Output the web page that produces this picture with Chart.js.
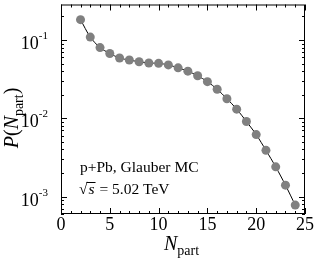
<!DOCTYPE html>
<html lang="en">

<head>
    <meta charset="UTF-8">
    <title>P(Npart)</title>
    <script src="https://cdn.jsdelivr.net/npm/chart.js"></script>
    <style>
        html, body {
            margin: 0;
            padding: 0;
            background: #fff;
        }

        #wrap {
            width: 315px;
            height: 258px;
        }
    </style>
</head>

<body>
    <div id="wrap"><canvas id="npartChart" width="315" height="258"></canvas></div>
    <script>
        // number of participants and probability
        const nPart = [2, 3, 4, 5, 6, 7, 8, 9, 10, 11, 12, 13, 14, 15, 16, 17, 18, 19, 20, 21, 22, 23, 24];
        const prob = [0.182, 0.109, 0.080, 0.0673, 0.0589, 0.0555, 0.0528, 0.0509, 0.0503, 0.0481, 0.0441,
            0.0400, 0.0349, 0.0294, 0.0235, 0.0178, 0.0131, 0.0091, 0.0062, 0.0039, 0.0024, 0.0014, 0.00078];
        const xTicks = [0, 5, 10, 15, 20, 25];
        const yDecades = [-3, -2, -1];

        const serif = '"Liberation Serif", "DejaVu Serif", serif';

        // frame, inner ticks and all labels
        const framePlugin = {
            id: 'frame',
            afterDraw(chart) {
                const ctx = chart.ctx;
                const a = chart.chartArea;
                const xs = chart.scales.x;
                const ys = chart.scales.y;
                ctx.save();
                ctx.strokeStyle = '#000';
                ctx.lineWidth = 1;
                ctx.strokeRect(a.left + 0.5, a.top + 0.5, a.right - a.left - 1, a.bottom - a.top - 1);

                ctx.beginPath();
                // x ticks
                for (let v = 0; v <= 25; v++) {
                    const px = Math.round(xs.getPixelForValue(v)) + 0.5;
                    const len = v % 5 === 0 ? 6 : 3;
                    ctx.moveTo(px, a.bottom);
                    ctx.lineTo(px, a.bottom - len);
                    ctx.moveTo(px, a.top);
                    ctx.lineTo(px, a.top + len);
                }
                // y ticks
                for (let d = -4; d <= 0; d++) {
                    for (let m = 1; m <= 9; m++) {
                        const val = m * Math.pow(10, d);
                        if (val < ys.min || val > ys.max) continue;
                        const py = Math.round(ys.getPixelForValue(val)) + 0.5;
                        const len = m === 1 ? 6 : 3;
                        ctx.moveTo(a.left, py);
                        ctx.lineTo(a.left + len, py);
                        ctx.moveTo(a.right, py);
                        ctx.lineTo(a.right - len, py);
                    }
                }
                ctx.stroke();

                ctx.fillStyle = '#000';
                // x tick labels
                ctx.font = '18px ' + serif;
                ctx.textAlign = 'center';
                ctx.textBaseline = 'alphabetic';
                xTicks.forEach(v => {
                    ctx.fillText(String(v), xs.getPixelForValue(v), 230);
                });

                // y tick labels 10^n
                yDecades.forEach(d => {
                    const py = ys.getPixelForValue(Math.pow(10, d));
                    ctx.font = '11px ' + serif;
                    const sup = '-' + Math.abs(d);
                    const sw = ctx.measureText(sup).width;
                    ctx.textAlign = 'right';
                    ctx.fillText(sup, 48, py - 1);
                    ctx.font = '18px ' + serif;
                    ctx.fillText('10', 48 - sw, py + 9);
                });

                // x title
                ctx.textAlign = 'left';
                ctx.font = 'italic 20px ' + serif;
                const nw = ctx.measureText('N').width;
                ctx.fillText('N', 164, 250);
                ctx.font = '14px ' + serif;
                ctx.fillText('part', 164 + nw, 255);

                // y title (rotated)
                ctx.save();
                ctx.translate(18, 118);
                ctx.rotate(-Math.PI / 2);
                const parts = [
                    ['P', 'italic 20px ', 0],
                    ['(', '20px ', 0],
                    ['N', 'italic 20px ', 0],
                    ['part', '14px ', 5],
                    [')', '20px ', 0]
                ];
                let total = 0;
                parts.forEach(p => { ctx.font = p[1] + serif; total += ctx.measureText(p[0]).width; });
                let cx = -total / 2;
                parts.forEach(p => {
                    ctx.font = p[1] + serif;
                    ctx.fillText(p[0], cx, p[2]);
                    cx += ctx.measureText(p[0]).width;
                });
                ctx.restore();

                // annotation
                ctx.font = '15.5px ' + serif;
                ctx.fillText('p+Pb, Glauber MC', 80, 172);
                ctx.fillText('\u221A', 79, 194);
                const rw = ctx.measureText('\u221A').width;
                ctx.font = 'italic 15.5px ' + serif;
                const sW = ctx.measureText('s').width;
                ctx.fillText('s', 79 + rw + 1, 194);
                ctx.beginPath();
                ctx.moveTo(79 + rw - 1, 182.5);
                ctx.lineTo(79 + rw + sW + 2, 182.5);
                ctx.stroke();
                ctx.font = '15.5px ' + serif;
                ctx.fillText(' = 5.02 TeV', 79 + rw + sW + 2, 194);
                ctx.restore();
            }
        };

        new Chart(document.getElementById('npartChart'), {
            type: 'line',
            data: {
                datasets: [{
                    data: nPart.map((n, i) => ({ x: n, y: prob[i] })),
                    borderColor: '#000',
                    borderWidth: 1,
                    backgroundColor: '#808080',
                    pointBackgroundColor: '#808080',
                    pointBorderColor: '#808080',
                    pointBorderWidth: 0,
                    pointRadius: 4.5,
                    tension: 0.3,
                    fill: false
                }]
            },
            options: {
                responsive: false,
                animation: false,
                events: [],
                layout: { padding: { top: 3, right: 10, left: 0, bottom: 0 } },
                plugins: { legend: { display: false }, tooltip: { enabled: false } },
                scales: {
                    x: {
                        type: 'linear',
                        min: 0,
                        max: 25,
                        grid: { display: false },
                        border: { display: false },
                        ticks: { display: false },
                        afterFit(scale) { scale.height = 44; }
                    },
                    y: {
                        type: 'logarithmic',
                        min: 0.00063,
                        max: 0.284,
                        grid: { display: false },
                        border: { display: false },
                        ticks: { display: false },
                        afterFit(scale) { scale.width = 61; }
                    }
                }
            },
            plugins: [framePlugin]
        });
    </script>
</body>

</html>
